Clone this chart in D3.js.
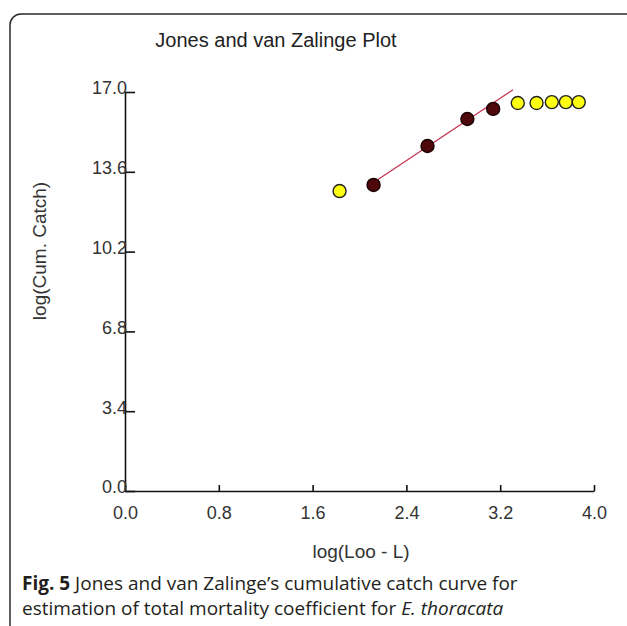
<!DOCTYPE html>
<html>
<head>
<meta charset="utf-8">
<script src="https://cdn.jsdelivr.net/npm/d3@7"></script>
<style>
  body { margin: 0; background: #fff; }
  svg { display: block; }
</style>
</head>
<body>
<div id="chart"></div>
<script>
var svgWidth = 627;
var svgHeight = 626;

// plot area (pixel box of the axes)
var margin = { top: 92, left: 125 };
var width = 469;
var height = 399;

// data
var xTicks = [0.0, 0.8, 1.6, 2.4, 3.2, 4.0];
var yTicks = [0.0, 3.4, 6.8, 10.2, 13.6, 17.0];

// points used in the regression (dark)
var usedX = [2.12, 2.58, 2.92, 3.14];
var usedY = [13.04, 14.70, 15.85, 16.28];

// points not used (yellow)
var otherX = [1.83, 3.35, 3.51, 3.64, 3.76, 3.87];
var otherY = [12.78, 16.53, 16.53, 16.57, 16.57, 16.57];

// regression line end points
var lineX = [2.10, 3.31];
var lineY = [13.08, 17.10];

var svg = d3.select("#chart")
    .append("svg")
    .attr("width", svgWidth)
    .attr("height", svgHeight);

// rounded frame
svg.append("rect")
    .attr("x", 10)
    .attr("y", 14)
    .attr("width", 640)
    .attr("height", 640)
    .attr("rx", 11)
    .attr("fill", "none")
    .attr("stroke", "#2a2a2a")
    .attr("stroke-width", 1.5);

var chartGroup = svg.append("g")
    .attr("transform", `translate(${margin.left}, ${margin.top})`);

var xScale = d3.scaleLinear().domain([0, 4]).range([0, width]);
var yScale = d3.scaleLinear().domain([0, 17]).range([height, 0]);

// x axis
var bottomAxis = d3.axisBottom(xScale)
    .tickValues(xTicks)
    .tickFormat(d3.format(".1f"))
    .tickSizeInner(-6)
    .tickSizeOuter(0)
    .tickPadding(15);

var xAxis = chartGroup.append("g")
    .attr("transform", `translate(0, ${height})`)
    .call(bottomAxis);

// y axis
var leftAxis = d3.axisLeft(yScale)
    .tickValues(yTicks)
    .tickFormat(d3.format(".1f"))
    .tickSizeInner(-10)
    .tickSizeOuter(0)
    .tickPadding(0);

var yAxis = chartGroup.append("g")
    .call(leftAxis);

[xAxis, yAxis].forEach(function (ax) {
    ax.select(".domain").attr("stroke", "#111").attr("stroke-width", 1.6);
    ax.selectAll(".tick line").attr("stroke", "#111").attr("stroke-width", 1.6);
    ax.selectAll(".tick text")
        .attr("fill", "#333")
        .style("font-family", "'Liberation Sans', Arial, sans-serif")
        .style("font-size", "18px");
});
yAxis.selectAll(".tick text").attr("x", 2).attr("dy", "0.1em");

// regression line
chartGroup.append("line")
    .attr("x1", xScale(lineX[0]))
    .attr("y1", yScale(lineY[0]))
    .attr("x2", xScale(lineX[1]))
    .attr("y2", yScale(lineY[1]))
    .attr("stroke", "#c4314f")
    .attr("stroke-width", 1.2);

// yellow points
chartGroup.selectAll("circle.other")
    .data(otherX)
    .enter()
    .append("circle")
    .classed("other", true)
    .attr("cx", d => xScale(d))
    .attr("cy", (d, i) => yScale(otherY[i]))
    .attr("r", 6.5)
    .attr("fill", "#ffff10")
    .attr("stroke", "#222")
    .attr("stroke-width", 1.4);

// dark points
chartGroup.selectAll("circle.used")
    .data(usedX)
    .enter()
    .append("circle")
    .classed("used", true)
    .attr("cx", d => xScale(d))
    .attr("cy", (d, i) => yScale(usedY[i]))
    .attr("r", 6.5)
    .attr("fill", "#4e070b")
    .attr("stroke", "#1a0000")
    .attr("stroke-width", 1.4);

// titles
svg.append("text")
    .attr("x", 276)
    .attr("y", 47)
    .attr("text-anchor", "middle")
    .style("font-family", "'Liberation Sans', Arial, sans-serif")
    .style("font-size", "20px")
    .attr("fill", "#222")
    .text("Jones and van Zalinge Plot");

svg.append("text")
    .attr("x", 361)
    .attr("y", 558)
    .attr("text-anchor", "middle")
    .style("font-family", "'Liberation Sans', Arial, sans-serif")
    .style("font-size", "19px")
    .attr("fill", "#333")
    .text("log(Loo - L)");

svg.append("text")
    .attr("transform", "translate(46, 251) rotate(-90)")
    .attr("text-anchor", "middle")
    .style("font-family", "'Liberation Sans', Arial, sans-serif")
    .style("font-size", "19px")
    .attr("fill", "#333")
    .text("log(Cum. Catch)");

// caption
var caption = svg.append("g")
    .style("font-family", "'Open Sans', 'Noto Sans', sans-serif")
    .style("font-size", "19px")
    .attr("fill", "#231f20");

var line1 = caption.append("text").attr("x", 22).attr("y", 590);
line1.append("tspan").style("font-weight", "bold").text("Fig. 5");
line1.append("tspan").text(" Jones and van Zalinge\u2019s cumulative catch curve for");

var line2 = caption.append("text").attr("x", 22).attr("y", 615);
line2.append("tspan").text("estimation of total mortality coefficient for ");
line2.append("tspan").style("font-style", "italic").text("E. thoracata");
</script>
</body>
</html>
